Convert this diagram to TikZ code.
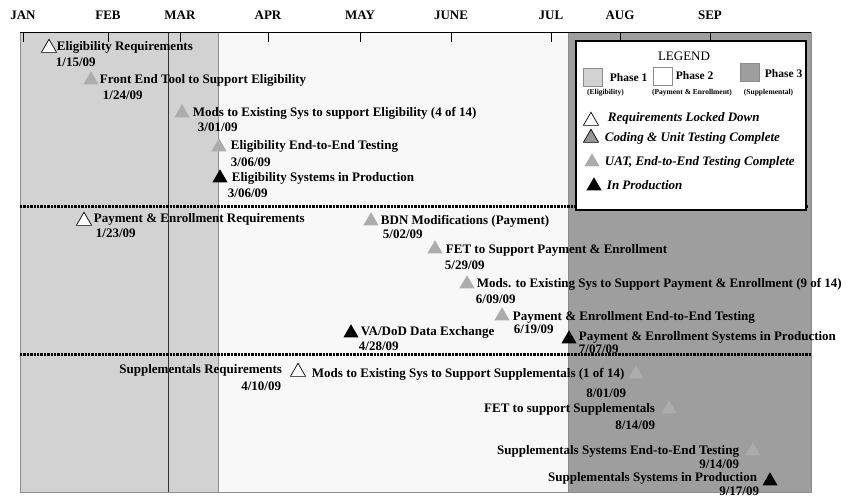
\documentclass[tikz,border=0pt]{standalone}
\usepackage{fontspec}
\setmainfont{Liberation Serif}
\usetikzlibrary{shapes.geometric}
\definecolor{phaseone}{RGB}{210,210,210}
\definecolor{phasetwo}{RGB}{248,248,248}
\definecolor{phasethree}{RGB}{158,158,158}
\definecolor{edgegray}{RGB}{140,140,140}
\definecolor{uatgray}{RGB}{172,172,172}
\definecolor{codegray}{RGB}{150,150,150}

\begin{document}
\begin{tikzpicture}[x=1pt,y=1pt,yscale=-1,
    tri/.style={regular polygon,regular polygon sides=3,minimum size=17.5pt,inner sep=0pt},
    reqtri/.style={tri,draw=black,fill=white,line width=0.7pt},
    codetri/.style={tri,draw=black,fill=codegray,line width=0.7pt},
    uattri/.style={tri,fill=uatgray},
    prodtri/.style={tri,fill=black},
    lbl/.style={anchor=west,inner sep=0.75pt,text height=10pt,text depth=1.5pt,font=\fontsize{13}{15}\selectfont\bfseries},
    lble/.style={lbl,anchor=east},
    keytext/.style={lbl,font=\fontsize{13}{15}\selectfont\bfseries\itshape},
    swatch/.style={draw=edgegray,minimum width=19pt,minimum height=18pt,inner sep=0pt},
    phasetxt/.style={lbl,font=\fontsize{11.5}{13}\selectfont\bfseries},
    phasesub/.style={inner sep=0pt,font=\fontsize{7.5}{9}\selectfont\bfseries},
    dotline/.style={line width=3pt,dash pattern=on 2.3pt off 1.1pt}]
    \useasboundingbox (0,0) rectangle (847,497);
    \fill[phaseone] (20,33) rectangle (218,492);
    \fill[phasetwo] (218,33) rectangle (568,492);
    \fill[phasethree] (568,33) rectangle (811,492);
    \draw[edgegray,line width=1pt] (20,33) rectangle (811,492);
    \draw[edgegray,line width=1pt] (218,33) -- (218,492) (568,33) -- (568,492);
    \draw[black!80,line width=0.8pt] (168,33) -- (168,492);
    \draw[line width=1pt] (20,33) -- (811,33);
    \foreach \mx/\mname in {23/JAN,108/FEB,180/MAR,268/APR,360/MAY,451/JUNE,551/JUL,620/AUG,710/SEP}{
        \draw[line width=0.8pt] (\mx,33) -- (\mx,42);
        \node (\mname) at (\mx,15) [inner sep=0.75pt,font=\fontsize{13}{15}\selectfont\bfseries] {\mname};
    }
    \draw[dotline] (20,207) -- (808,207);
    \draw[dotline] (20,355) -- (811,355);

    \node (legend) at (691,125.5) [draw=black,line width=1.2pt,fill=white,minimum width=230pt,minimum height=169pt,inner sep=0pt] {};
    \node (legtitle) at (684,56) [inner sep=0pt,font=\fontsize{13}{15}\selectfont] {LEGEND};
    \node (sw1) at (593,77.5) [swatch,fill=phaseone] {};
    \node (sw2) at (663,76) [swatch,fill=white] {};
    \node (sw3) at (750,72.5) [swatch,fill=phasethree] {};
    \node (ph1) at (609,77) [phasetxt] {Phase 1};
    \node (ph2) at (675,75) [phasetxt] {Phase 2};
    \node (ph3) at (764,73) [phasetxt] {Phase 3};
    \node (sub1) at (605.5,93) [phasesub] {(Eligibility)};
    \node (sub2) at (692,93) [phasesub] {(Payment \& Enrollment)};
    \node (sub3) at (768.5,93) [phasesub] {(Supplemental)};
    \node (keyreq) at (591,121) [reqtri] {};
    \node (keycode) at (591,138) [codetri] {};
    \node (keyuat) at (592,162) [uattri] {};
    \node (keyprod) at (594,186) [prodtri] {};
    \node (keyreqtxt) at (607,117) [keytext] {Requirements Locked Down};
    \node (keycodetxt) at (604,137) [keytext] {Coding \& Unit Testing Complete};
    \node (keyuattxt) at (604,161) [keytext] {UAT, End-to-End Testing Complete};
    \node (keyprodtxt) at (606,185) [keytext] {In Production};

    \node (elreq) at (49,48) [reqtri] {};
    \node (elreqlbl) at (56,46) [lbl] {Eligibility Requirements};
    \node (elreqdate) at (55,62) [lbl] {1/15/09};
    \node (elfet) at (91,80) [uattri] {};
    \node (elfetlbl) at (99,79) [lbl] {Front End Tool to Support Eligibility};
    \node (elfetdate) at (102,95) [lbl] {1/24/09};
    \node (elmods) at (182,113) [uattri] {};
    \node (elmodslbl) at (192,112) [lbl] {Mods to Existing Sys to support Eligibility (4 of 14)};
    \node (elmodsdate) at (197,127) [lbl] {3/01/09};
    \node (eltest) at (219,147) [uattri] {};
    \node (eltestlbl) at (230,145) [lbl] {Eligibility End-to-End Testing};
    \node (eltestdate) at (230,162) [lbl] {3/06/09};
    \node (elprod) at (220,178) [prodtri] {};
    \node (elprodlbl) at (231,177) [lbl] {Eligibility Systems in Production};
    \node (elproddate) at (227,193) [lbl] {3/06/09};

    \node (pereq) at (84,221) [reqtri] {};
    \node (pereqlbl) at (93,218) [lbl] {Payment \& Enrollment Requirements};
    \node (pereqdate) at (95,233) [lbl] {1/23/09};
    \node (pebdn) at (371,221) [uattri] {};
    \node (pebdnlbl) at (380,220) [lbl] {BDN Modifications (Payment)};
    \node (pebdndate) at (382,234) [lbl] {5/02/09};
    \node (pefet) at (435,249) [uattri] {};
    \node (pefetlbl) at (445,249) [lbl] {FET to Support Payment \& Enrollment};
    \node (pefetdate) at (444,265) [lbl] {5/29/09};
    \node (pemods) at (467,284) [uattri] {};
    \node (pemodslbl) at (476,283) [lbl] {Mods. to Existing Sys to Support Payment \& Enrollment (9 of 14)};
    \node (pemodsdate) at (475,299) [lbl] {6/09/09};
    \node (petest) at (502,316) [uattri] {};
    \node (petestlbl) at (512,316) [lbl] {Payment \& Enrollment End-to-End Testing};
    \node (petestdate) at (513,329) [lbl] {6/19/09};
    \node (pevadod) at (351,333) [prodtri] {};
    \node (pevadodlbl) at (360,331) [lbl] {VA/DoD Data Exchange};
    \node (pevadoddate) at (358,346) [lbl] {4/28/09};
    \node (peprod) at (569,339) [prodtri] {};
    \node (peprodlbl) at (578,336) [lbl] {Payment \& Enrollment Systems in Production};
    \node (peproddate) at (578,349) [lbl] {7/07/09};

    \node (spreq) at (298,372) [reqtri] {};
    \node (spreqlbl) at (283,369) [lble] {Supplementals Requirements};
    \node (spreqdate) at (282,386) [lble] {4/10/09};
    \node (spmods) at (636,374) [uattri] {};
    \node (spmodslbl) at (311,373) [lbl] {Mods to Existing Sys to Support Supplementals (1 of 14)};
    \node (spmodsdate) at (627,393) [lble] {8/01/09};
    \node (spfet) at (669,409) [uattri] {};
    \node (spfetlbl) at (656,408) [lble] {FET to support Supplementals};
    \node (spfetdate) at (656,425) [lble] {8/14/09};
    \node (sptest) at (753,451) [uattri] {};
    \node (sptestlbl) at (740,450) [lble] {Supplementals Systems End-to-End Testing};
    \node (sptestdate) at (740,464) [lble] {9/14/09};
    \node (spprod) at (770,481) [prodtri] {};
    \node (spprodlbl) at (758,477) [lble] {Supplementals Systems in Production};
    \node (spproddate) at (760,491) [lble] {9/17/09};
\end{tikzpicture}
\end{document}
